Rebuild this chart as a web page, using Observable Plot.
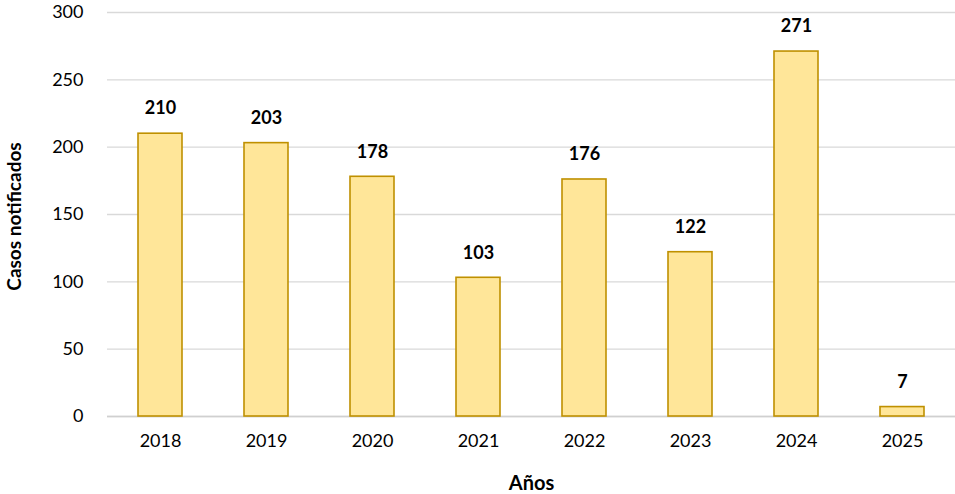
<!DOCTYPE html>
<html>
<head>
<meta charset="utf-8">
<script src="https://cdn.jsdelivr.net/npm/d3@7"></script>
<script src="https://cdn.jsdelivr.net/npm/@observablehq/plot@0.6"></script>
<style>
  html, body { margin: 0; padding: 0; background: #fff; }
  #chart svg { display: block; }
</style>
</head>
<body>
<div id="chart"></div>
<script>
const years = ["2018", "2019", "2020", "2021", "2022", "2023", "2024", "2025"];
const cases = [210, 203, 178, 103, 176, 122, 271, 7];
const yTicks = [0, 50, 100, 150, 200, 250, 300];

const data = years.map((y, i) => ({year: y, value: cases[i]}));
const font = "Lato, 'Open Sans', sans-serif";

const chart = Plot.plot({
  width: 955,
  height: 494,
  marginLeft: 107,
  marginRight: 0,
  marginTop: 12,
  marginBottom: 78,
  style: {fontFamily: font, fontSize: "18px", color: "#000", background: "#fff"},
  x: {domain: years, paddingInner: 0.585, paddingOuter: 0.2925, label: null},
  y: {domain: [0, 300], label: null},
  marks: [
    Plot.gridY(yTicks, {stroke: "#d9d9d9", strokeOpacity: 1, strokeWidth: 1.3}),
    Plot.ruleY([0], {stroke: "#d0d0d0", strokeWidth: 1.5}),
    Plot.barY(data, {x: "year", y: "value", fill: "#FFE699", stroke: "#BF9000", strokeWidth: 1.6, inset: 0}),
    Plot.text(data, {x: "year", y: "value", text: d => String(d.value), dy: -25, fontWeight: "bold", fontSize: 18, fill: "#000"}),
    Plot.axisY(yTicks, {tickSize: 0, tickPadding: 24, fontSize: 18, fill: "#000", label: null}),
    Plot.axisX({tickSize: 0, tickPadding: 18, fontSize: 18, fill: "#000", label: null}),
    Plot.text(["Años"], {frameAnchor: "bottom", dy: 73, fontWeight: "bold", fontSize: 20, fill: "#000"}),
    Plot.text(["Casos notificados"], {frameAnchor: "left", textAnchor: "middle", dx: -93, dy: 2, rotate: -90, fontWeight: "bold", fontSize: 19, fill: "#000"})
  ]
});
document.getElementById("chart").appendChild(chart);
</script>
</body>
</html>
